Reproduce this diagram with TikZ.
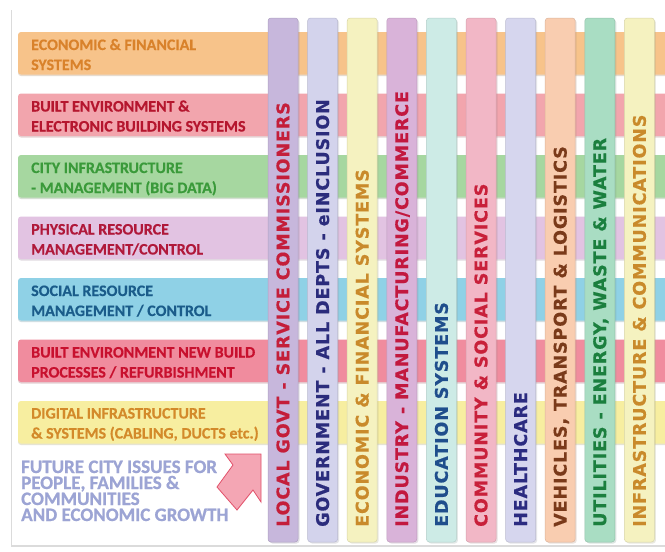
\documentclass[tikz,border=0pt]{standalone}
\usepackage{fontspec}
\newfontfamily\rowfam{Carlito Bold}[FakeBold=0.4]
\newfontfamily\footfam{Carlito Bold}[FakeBold=0.8]
\newfontfamily\colfam{DejaVu Sans Bold}[LetterSpace=5,FakeBold=0.5]
\newcommand\rowfont{\rowfam\fontsize{16}{20}\selectfont}
\newcommand\colfont{\colfam\fontsize{17.5}{20}\selectfont}
\newcommand\footfont{\footfam\fontsize{19}{16}\selectfont}
% row colours
\definecolor{rA}{HTML}{F7C38A}\definecolor{tA}{HTML}{D9822B}
\definecolor{rB}{HTML}{F2A5AD}\definecolor{tB}{HTML}{B5162E}
\definecolor{rC}{HTML}{A6D7A0}\definecolor{tC}{HTML}{3A9A3A}
\definecolor{rD}{HTML}{E2C3E2}\definecolor{tD}{HTML}{B0183A}
\definecolor{rE}{HTML}{8FD1E6}\definecolor{tE}{HTML}{1A5C8A}
\definecolor{rF}{HTML}{F08C9E}\definecolor{tF}{HTML}{C8102E}
\definecolor{rG}{HTML}{F7EEA0}\definecolor{tG}{HTML}{D38A2A}
% column colours
\definecolor{cA}{HTML}{C7B7DC}\definecolor{kA}{HTML}{C41E3A}
\definecolor{cB}{HTML}{D3D3EC}\definecolor{kB}{HTML}{2B2C7C}
\definecolor{cC}{HTML}{F5F2C0}\definecolor{kC}{HTML}{C98A2B}
\definecolor{cD}{HTML}{D9B3D9}\definecolor{kD}{HTML}{C2183F}
\definecolor{cE}{HTML}{CDEBE6}\definecolor{kE}{HTML}{1F4E8C}
\definecolor{cF}{HTML}{F2B7C6}\definecolor{kF}{HTML}{C8203A}
\definecolor{cG}{HTML}{D6D6EE}\definecolor{kG}{HTML}{2B2B80}
\definecolor{cH}{HTML}{F9CDB0}\definecolor{kH}{HTML}{7A3A1A}
\definecolor{cI}{HTML}{A9DDC3}\definecolor{kI}{HTML}{1B7F3E}
\definecolor{cJ}{HTML}{F5F2C0}\definecolor{kJ}{HTML}{C98A2B}
\definecolor{footc}{HTML}{9CA4D4}
\definecolor{arrowfill}{HTML}{F4A6B4}
\definecolor{arrowedge}{HTML}{E2506A}
\tikzset{
  rowshadow/.style={fill=#1!70!black, opacity=0.3, rounded corners=3pt},
  rowbar/.style={fill=#1, rounded corners=3pt},
  colshadow/.style={fill=#1!70!black, opacity=0.25, rounded corners=3pt},
  colbar/.style={fill=#1, draw=#1!88!black, line width=0.5pt, rounded corners=3pt},
  rowtxt/.style={anchor=base west, inner sep=0pt, font=\rowfont, text=#1, text height=11pt, text depth=0pt},
  coltxt/.style={anchor=west, rotate=90, inner sep=0pt, font=\colfont, text=#1, text height=12.8pt, text depth=0pt},
  footxt/.style={anchor=base west, inner sep=0pt, font=\footfont, text=footc, text height=12pt, text depth=0pt},
  frameline/.style={draw=gray!28, line width=1.5pt},
}
\begin{document}
\begin{tikzpicture}[x=1pt,y=-1pt]
\useasboundingbox (0,0) rectangle (665,552);
\clip (0,0) rectangle (665,552);
\fill[white] (0,0) rectangle (665,552);
% frame
\draw[frameline] (11.5,10) -- (11.5,546) -- (670,546);
% horizontal bars
\foreach \t/\c in {32/rA,93.5/rB,155/rC,216.5/rD,278/rE,339.5/rF,401/rG}{
  \fill[rowshadow=\c] (18,\t+2) rectangle (680,\t+44);
  \fill[rowbar=\c] (18,\t) rectangle (680,\t+42.5);
}
% vertical bars
\foreach \i/\c in {0/cA,1/cB,2/cC,3/cD,4/cE,5/cF,6/cG,7/cH,8/cI,9/cJ}{
  \pgfmathsetmacro{\xl}{268+39.6*\i}
  \fill[colshadow=\c] (\xl+1.5,19.5) rectangle (\xl+31.5,543.5);
  \filldraw[colbar=\c] (\xl,18) rectangle (\xl+30,542);
}
% row labels
\node[rowtxt=tA] (r1a) at (31,50) {ECONOMIC \& FINANCIAL};
\node[rowtxt=tA] (r1b) at (31,70) {SYSTEMS};
\node[rowtxt=tB] (r2a) at (31,111.5) {BUILT ENVIRONMENT \&};
\node[rowtxt=tB] (r2b) at (31,131.5) {ELECTRONIC BUILDING SYSTEMS};
\node[rowtxt=tC] (r3a) at (31,173) {CITY INFRASTRUCTURE};
\node[rowtxt=tC] (r3b) at (31,193) {- MANAGEMENT (BIG DATA)};
\node[rowtxt=tD] (r4a) at (31,234.5) {PHYSICAL RESOURCE};
\node[rowtxt=tD] (r4b) at (31,254.5) {MANAGEMENT/CONTROL};
\node[rowtxt=tE] (r5a) at (31,296) {SOCIAL RESOURCE};
\node[rowtxt=tE] (r5b) at (31,316) {MANAGEMENT / CONTROL};
\node[rowtxt=tF] (r6a) at (31,357.5) {BUILT ENVIRONMENT NEW BUILD};
\node[rowtxt=tF] (r6b) at (31,377.5) {PROCESSES / REFURBISHMENT};
\node[rowtxt=tG] (r7a) at (31,418.5) {DIGITAL INFRASTRUCTURE};
\node[rowtxt=tG] (r7b) at (31,438.5) {\& SYSTEMS (CABLING, DUCTS etc.)};
% column labels
\node[coltxt=kA] (l1) at (283,527) {LOCAL GOVT - SERVICE COMMISSIONERS};
\node[coltxt=kB] (l2) at (322.6,527) {GOVERNMENT - ALL DEPTS - eINCLUSION};
\node[coltxt=kC] (l3) at (362.2,527) {ECONOMIC \& FINANCIAL SYSTEMS};
\node[coltxt=kD] (l4) at (401.8,527) {INDUSTRY - MANUFACTURING/COMMERCE};
\node[coltxt=kE] (l5) at (441.4,527) {EDUCATION SYSTEMS};
\node[coltxt=kF] (l6) at (481,527) {COMMUNITY \& SOCIAL SERVICES};
\node[coltxt=kG] (l7) at (520.6,527) {HEALTHCARE};
\node[coltxt=kH] (l8) at (560.2,527) {VEHICLES, TRANSPORT \& LOGISTICS};
\node[coltxt=kI] (l9) at (599.8,527) {UTILITIES - ENERGY, WASTE \& WATER};
\node[coltxt=kJ] (l10) at (639.4,527) {INFRASTRUCTURE \& COMMUNICATIONS};
% footer text
\node[footxt] (f1) at (21,473) {FUTURE CITY ISSUES FOR};
\node[footxt] (f2) at (21,489) {PEOPLE, FAMILIES \&};
\node[footxt] (f3) at (21,505) {COMMUNITIES};
\node[footxt] (f4) at (21,521) {AND ECONOMIC GROWTH};
% arrow
\filldraw[fill=arrowfill, draw=arrowedge, line width=0.8pt, line join=miter]
  (261,454) -- (225,454) -- (233,465) -- (217,487) -- (237,510) -- (253,490) -- (261,502) -- cycle;
\end{tikzpicture}
\end{document}
